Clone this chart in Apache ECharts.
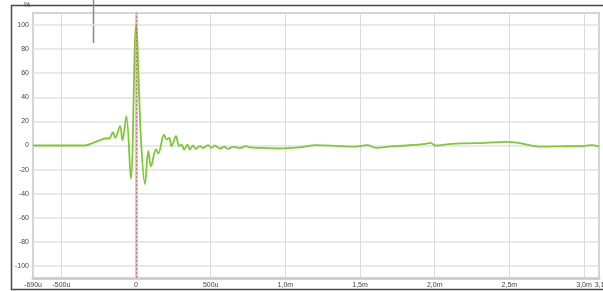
<!DOCTYPE html>
<html>
<head>
<meta charset="utf-8">
<script src="https://cdn.jsdelivr.net/npm/echarts@6/dist/echarts.min.js"></script>
<style>
  html, body { margin: 0; padding: 0; background: #fff; }
  #chart { width: 603px; height: 291px; }
</style>
</head>
<body>
<div id="chart"></div>
<script>
// time in microseconds
const timeUs = [-690, -340, -287, -240, -207, -180, -155, -140, -107, -91, -65, -35, 0, 33, 60, 82, 100, 133, 149,
  187, 204, 222, 238, 267, 289, 305, 322, 345, 360, 382, 400, 427, 449, 482, 505, 527, 560, 593, 615, 649, 693, 738,
  760, 847, 960, 1093, 1207, 1360, 1473, 1547, 1607, 1707, 1807, 1940, 1971, 2004, 2113, 2227, 2338, 2480, 2560,
  2713, 2893, 2980, 3047, 3100];
// impulse response, %
const response = [0, 0, 2.2, 4.4, 5.8, 5.8, 11, 6.4, 16, 4.4, 24.3, -27.6, 100, 5, -32, -4.5, -17.5, -3.3, -6.6,
  9.1, 5, 6.4, -0.5, 7.7, -0.5, 0.8, -3.3, 0.8, -3.3, 0, -2.8, -0.6, -2, 0.3, -2, 0, -2.5, -1.1, -2.8, -1.1, -2, -0.6,
  -1.5, -2, -2.5, -1.5, 0.3, -0.5, -1, 0.3, -2, -0.8, 0, 1.4, 2.2, 0, 1.4, 1.8, 2.2, 3, 2.2,
  -1, -0.6, -0.6, 0.3, -0.8];

const xTickValues = [-690, -500, 0, 500, 1000, 1500, 2000, 2500, 3000];
const xTickLabels = ['-690u', '-500u', '0', '500u', '1,0m', '1,5m', '2,0m', '2,5m', '3,0m'];
const xGridValues = [-500, 500, 1000, 1500, 2000, 2500, 3000];
const xEndValue = 3100;
const xEndLabel = '3,1m';
const yTickValues = [-100, -80, -60, -40, -20, 0, 20, 40, 60, 80, 100];

const chart = echarts.init(document.getElementById('chart'));

const labelFont = {fontSize: 7, color: '#444', fontFamily: 'Liberation Sans, Arial, sans-serif'};

chart.setOption({
    animation: false,
    grid: {left: 33, right: 4, top: 13, bottom: 13, show: true, borderColor: '#d4d4d4', borderWidth: 2,
           outerBoundsMode: 'none', containLabel: false},
    xAxis: [{
        type: 'value',
        min: -690,
        max: xEndValue,
        axisLine: {show: true, onZero: false, lineStyle: {color: '#cfcfcf', width: 3}},
        axisTick: {show: false, customValues: xGridValues},
        axisLabel: {
            ...labelFont,
            margin: 4,
            showMinLabel: true,
            showMaxLabel: true,
            customValues: xTickValues,
            formatter: v => xTickLabels[xTickValues.indexOf(v)] || ''
        },
        splitLine: {show: true, lineStyle: {color: '#dcdcdc', width: 1}}
    }, {
        // separate axis only to carry the end label
        type: 'value',
        position: 'bottom',
        min: -690,
        max: xEndValue,
        axisLine: {show: false},
        axisTick: {show: false},
        splitLine: {show: false},
        axisLabel: {
            ...labelFont,
            margin: 4,
            padding: [0, 0, 0, 7],
            showMinLabel: true,
            showMaxLabel: true,
            customValues: [xEndValue],
            formatter: v => (v === xEndValue ? xEndLabel : '')
        }
    }],
    yAxis: {
        type: 'value',
        min: -110,
        max: 110,
        axisLine: {show: true, lineStyle: {color: '#cfcfcf', width: 3}},
        axisTick: {show: false, customValues: yTickValues},
        axisLabel: {...labelFont, margin: 4, customValues: yTickValues},
        splitLine: {show: true, lineStyle: {color: '#e2e2e2', width: 1.5}}
    },
    graphic: [
        // outer frame
        {type: 'polyline', shape: {points: [[603, 5.5], [11.5, 5.5], [11.5, 289.5], [603, 289.5]]},
         style: {stroke: '#4a4a4a', lineWidth: 1.5, fill: null}},
        // cursor
        {type: 'line', shape: {x1: 93.5, y1: 0, x2: 93.5, y2: 43}, style: {stroke: '#8a8a8a', lineWidth: 1.5}},
        {type: 'text', left: 24, top: 2, style: {text: '%', fontSize: 7, fill: '#444'}}
    ],
    series: [{
        type: 'line',
        data: timeUs.map((t, i) => [t, response[i]]),
        showSymbol: false,
        smooth: 0.35,
        lineStyle: {color: '#7cc934', width: 1.8},
        markLine: {
            silent: true,
            symbol: 'none',
            label: {show: false},
            lineStyle: {color: '#e05a5a', type: [2, 2], width: 0.8},
            data: [{xAxis: 0}]
        }
    }]
});
</script>
</body>
</html>
